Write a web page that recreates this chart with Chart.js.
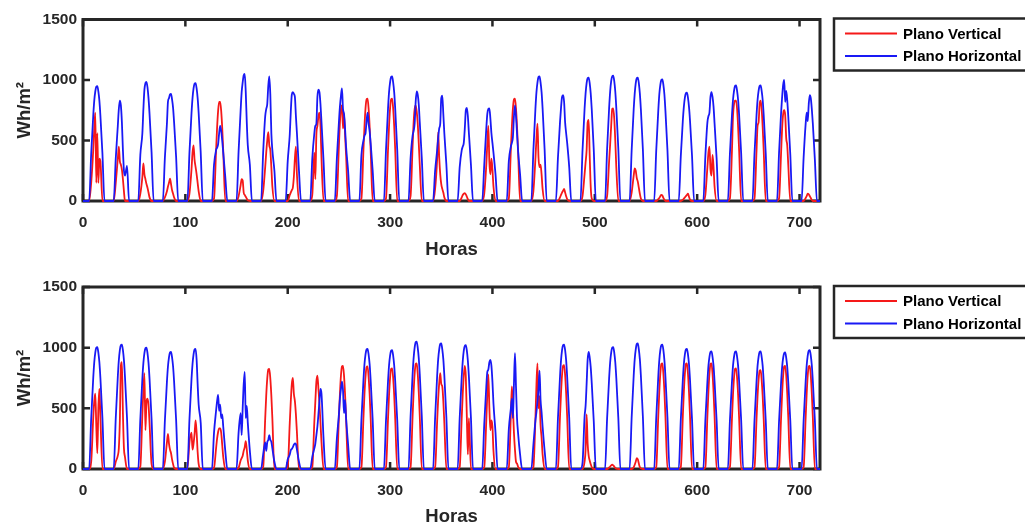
<!DOCTYPE html>
<html>
<head>
<meta charset="utf-8">
<title>Plano Vertical / Plano Horizontal</title>
<script src="https://cdn.jsdelivr.net/npm/chart.js@4.4.1/dist/chart.umd.min.js"></script>
<style>
  html, body { margin: 0; padding: 0; background: #fff; overflow: hidden; }
  body { width: 1025px; height: 523px; position: relative; }
  .panel { position: absolute; left: 0; width: 1025px; }
  #top-panel { top: 0; height: 262px; }
  #bottom-panel { top: 262px; height: 290px; }
</style>
</head>
<body>
<div class="panel" id="top-panel"><canvas id="topChart" width="1025" height="262"></canvas></div>
<div class="panel" id="bottom-panel"><canvas id="bottomChart" width="1025" height="290"></canvas></div>
<script>
// Labels
const seriesLabels = ['Plano Vertical', 'Plano Horizontal'];
const xTitle = 'Horas';
const yTitle = 'Wh/m²';

// Hours of the day at which each daily curve was read (night = 0)
const dayHours = [6, 8, 10, 11, 12, 13, 14, 15, 16, 17, 19, 21];

// Top panel - one row per day (30 days)
const topVertical = [
    [0, 150, 420, 600, 730, 150, 560, 150, 350, 330, 0, 0],
    [0, 150, 350, 450, 330, 300, 260, 180, 80, 0, 0, 0],
    [0, 60, 200, 310, 220, 180, 140, 110, 70, 30, 0, 0],
    [0, 30, 80, 120, 150, 185, 140, 90, 60, 30, 0, 0],
    [0, 60, 260, 400, 460, 340, 280, 220, 150, 80, 0, 0],
    [0, 20, 415, 605, 745, 820, 820, 745, 605, 415, 0, 0],
    [0, 40, 130, 180, 170, 70, 50, 35, 20, 5, 0, 0],
    [0, 80, 280, 400, 500, 570, 460, 420, 280, 120, 0, 0],
    [0, 0, 50, 70, 90, 110, 200, 350, 450, 220, 0, 0],
    [0, 50, 400, 180, 550, 620, 700, 730, 620, 350, 0, 0],
    [0, 40, 450, 650, 760, 790, 600, 720, 550, 380, 0, 0],
    [0, 20, 425, 620, 765, 840, 845, 765, 620, 425, 0, 0],
    [0, 20, 425, 620, 765, 840, 845, 765, 620, 425, 0, 0],
    [0, 40, 450, 650, 760, 790, 740, 640, 480, 300, 0, 0],
    [0, 100, 350, 570, 360, 220, 140, 100, 70, 30, 0, 0],
    [0, 0, 30, 50, 60, 65, 55, 35, 15, 0, 0, 0],
    [0, 60, 300, 480, 620, 320, 220, 350, 260, 120, 0, 0],
    [0, 20, 425, 620, 765, 840, 845, 765, 620, 425, 0, 0],
    [0, 80, 350, 520, 640, 360, 280, 300, 220, 100, 0, 0],
    [0, 0, 30, 50, 70, 85, 100, 70, 40, 15, 0, 0],
    [0, 40, 220, 320, 420, 650, 670, 380, 120, 20, 0, 0],
    [0, 40, 330, 470, 620, 760, 765, 680, 500, 280, 0, 0],
    [0, 70, 210, 270, 250, 190, 160, 110, 60, 20, 0, 0],
    [0, 0, 15, 25, 40, 50, 45, 25, 10, 0, 0, 0],
    [0, 0, 10, 20, 30, 40, 50, 60, 35, 10, 0, 0],
    [0, 50, 280, 400, 450, 260, 210, 380, 280, 120, 0, 0],
    [0, 20, 415, 700, 800, 830, 830, 760, 610, 415, 0, 0],
    [0, 20, 415, 620, 650, 800, 830, 760, 610, 415, 0, 0],
    [0, 20, 400, 600, 720, 750, 710, 520, 460, 300, 0, 0],
    [0, 0, 25, 40, 60, 55, 40, 25, 10, 0, 0, 0]
];

const topHorizontal = [
    [0, 390, 705, 830, 905, 945, 950, 905, 830, 705, 390, 0],
    [0, 350, 620, 760, 830, 790, 650, 420, 250, 210, 290, 0],
    [0, 380, 560, 760, 920, 975, 985, 940, 850, 720, 400, 0],
    [0, 360, 640, 820, 850, 880, 885, 840, 770, 650, 360, 0],
    [0, 400, 725, 850, 930, 970, 975, 930, 850, 725, 400, 0],
    [0, 300, 420, 440, 470, 560, 620, 580, 500, 400, 200, 0],
    [0, 410, 750, 900, 980, 1040, 1050, 900, 650, 460, 300, 0],
    [0, 400, 700, 760, 800, 950, 1030, 880, 560, 420, 250, 0],
    [0, 330, 550, 740, 880, 900, 885, 860, 700, 560, 250, 0],
    [0, 350, 560, 620, 640, 860, 920, 900, 800, 650, 330, 0],
    [0, 350, 650, 780, 870, 930, 760, 720, 600, 450, 250, 0],
    [0, 380, 500, 540, 560, 660, 730, 640, 580, 480, 250, 0],
    [0, 420, 765, 900, 980, 1025, 1030, 980, 900, 765, 420, 0],
    [0, 350, 540, 580, 640, 820, 905, 880, 800, 650, 350, 0],
    [0, 250, 420, 520, 600, 640, 850, 870, 720, 560, 300, 0],
    [0, 280, 420, 450, 480, 600, 750, 770, 700, 560, 300, 0],
    [0, 300, 600, 720, 760, 765, 680, 560, 480, 400, 220, 0],
    [0, 330, 450, 480, 530, 700, 790, 700, 560, 420, 220, 0],
    [0, 420, 765, 900, 980, 1025, 1030, 980, 900, 765, 420, 0],
    [0, 360, 650, 770, 860, 875, 820, 650, 560, 480, 280, 0],
    [0, 420, 760, 890, 975, 1015, 1020, 975, 890, 760, 420, 0],
    [0, 425, 770, 905, 990, 1030, 1035, 990, 905, 770, 425, 0],
    [0, 420, 760, 890, 975, 1015, 1020, 975, 890, 760, 420, 0],
    [0, 415, 745, 880, 960, 1000, 1005, 960, 880, 745, 415, 0],
    [0, 370, 665, 780, 855, 890, 895, 855, 780, 665, 370, 0],
    [0, 370, 650, 700, 730, 860, 900, 860, 780, 640, 350, 0],
    [0, 390, 710, 835, 910, 950, 955, 910, 835, 710, 390, 0],
    [0, 390, 710, 835, 910, 950, 955, 910, 835, 710, 390, 0],
    [0, 400, 730, 860, 960, 1000, 820, 910, 830, 700, 380, 0],
    [0, 360, 640, 730, 660, 800, 875, 850, 760, 640, 340, 0]
];

// Bottom panel
const bottomVertical = [
    [0, 60, 420, 560, 620, 350, 130, 500, 660, 430, 0, 0],
    [0, 60, 110, 170, 400, 850, 880, 460, 170, 100, 0, 0],
    [0, 20, 450, 650, 790, 320, 550, 580, 530, 380, 40, 0],
    [0, 60, 220, 290, 210, 160, 130, 80, 40, 10, 0, 0],
    [0, 220, 300, 160, 210, 290, 400, 300, 140, 40, 0, 0],
    [0, 10, 170, 250, 305, 335, 335, 300, 200, 100, 0, 0],
    [0, 10, 70, 90, 110, 150, 180, 230, 160, 70, 0, 0],
    [0, 15, 415, 605, 745, 820, 825, 745, 605, 415, 0, 0],
    [0, 15, 380, 560, 700, 750, 620, 560, 450, 300, 0, 0],
    [0, 15, 390, 560, 720, 770, 660, 540, 380, 220, 0, 0],
    [0, 15, 425, 620, 770, 845, 850, 770, 620, 425, 0, 0],
    [0, 15, 425, 620, 760, 840, 845, 760, 620, 425, 0, 0],
    [0, 15, 415, 610, 750, 825, 830, 750, 610, 415, 0, 0],
    [0, 15, 435, 635, 785, 865, 870, 785, 635, 435, 0, 0],
    [0, 15, 395, 580, 710, 790, 700, 680, 560, 380, 0, 0],
    [0, 15, 425, 620, 770, 850, 760, 420, 120, 420, 0, 0],
    [0, 15, 400, 620, 780, 500, 320, 400, 350, 150, 0, 0],
    [0, 15, 450, 680, 500, 300, 160, 60, 45, 20, 0, 0],
    [0, 15, 420, 700, 870, 500, 600, 360, 260, 120, 0, 0],
    [0, 15, 430, 625, 775, 850, 855, 775, 625, 430, 0, 0],
    [0, 0, 60, 160, 450, 210, 110, 70, 40, 15, 0, 0],
    [0, 0, 12, 20, 30, 35, 30, 20, 10, 3, 0, 0],
    [0, 0, 15, 35, 60, 90, 80, 45, 15, 5, 0, 0],
    [0, 15, 435, 635, 785, 865, 870, 785, 635, 435, 0, 0],
    [0, 15, 435, 635, 785, 865, 870, 785, 635, 435, 0, 0],
    [0, 15, 435, 635, 785, 865, 870, 785, 635, 435, 0, 0],
    [0, 15, 415, 610, 750, 825, 830, 750, 610, 415, 0, 0],
    [0, 15, 410, 600, 735, 810, 815, 735, 600, 410, 0, 0],
    [0, 15, 425, 620, 770, 845, 850, 770, 620, 425, 0, 0],
    [0, 15, 425, 620, 770, 845, 850, 770, 620, 425, 0, 0]
];

const bottomHorizontal = [
    [0, 415, 750, 880, 960, 1000, 1005, 960, 880, 750, 415, 0],
    [0, 420, 760, 895, 980, 1020, 1025, 980, 895, 760, 420, 0],
    [0, 410, 745, 875, 955, 995, 1000, 955, 875, 745, 410, 0],
    [0, 400, 720, 845, 920, 960, 965, 920, 845, 720, 400, 0],
    [0, 410, 740, 865, 945, 985, 990, 900, 700, 530, 380, 0],
    [0, 300, 480, 560, 610, 480, 530, 420, 450, 350, 150, 0],
    [0, 300, 460, 280, 500, 700, 800, 420, 520, 380, 150, 0],
    [0, 120, 220, 150, 220, 240, 280, 240, 225, 170, 60, 0],
    [0, 80, 120, 155, 165, 180, 200, 212, 205, 160, 60, 0],
    [0, 100, 170, 210, 280, 350, 450, 560, 660, 620, 250, 0],
    [0, 250, 450, 580, 660, 720, 650, 460, 570, 420, 200, 0],
    [0, 405, 735, 865, 945, 985, 990, 945, 865, 735, 405, 0],
    [0, 400, 725, 855, 935, 975, 980, 935, 855, 725, 400, 0],
    [0, 430, 780, 915, 1000, 1045, 1050, 1000, 915, 780, 430, 0],
    [0, 425, 770, 905, 985, 1030, 1035, 985, 905, 770, 425, 0],
    [0, 420, 760, 890, 975, 1015, 1020, 975, 890, 760, 420, 0],
    [0, 370, 680, 800, 820, 880, 900, 850, 720, 540, 300, 0],
    [0, 330, 500, 580, 420, 700, 955, 680, 420, 300, 120, 0],
    [0, 200, 400, 470, 560, 660, 810, 570, 470, 350, 150, 0],
    [0, 420, 760, 895, 980, 1020, 1025, 980, 895, 760, 420, 0],
    [0, 50, 430, 520, 700, 900, 965, 920, 840, 710, 390, 0],
    [0, 415, 750, 880, 960, 1000, 1005, 960, 880, 750, 415, 0],
    [0, 425, 770, 905, 985, 1030, 1035, 985, 905, 770, 425, 0],
    [0, 420, 760, 895, 980, 1020, 1025, 980, 895, 760, 420, 0],
    [0, 405, 735, 865, 945, 985, 990, 945, 865, 735, 405, 0],
    [0, 400, 720, 850, 925, 965, 970, 925, 850, 720, 400, 0],
    [0, 400, 720, 850, 925, 965, 970, 925, 850, 720, 400, 0],
    [0, 400, 720, 850, 925, 965, 970, 925, 850, 720, 400, 0],
    [0, 395, 715, 840, 915, 955, 960, 915, 840, 715, 395, 0],
    [0, 400, 725, 855, 935, 975, 980, 935, 855, 725, 400, 0]
];

// Styles
const RED = 'rgb(245, 25, 25)';
const BLUE = 'rgb(25, 25, 245)';
const AXIS_COLOR = '#262626';
const FONT = '"Liberation Sans", Arial, sans-serif';

// Turn the day rows into {x: hour, y: value} points
function buildPoints(days) {
    const pts = [{ x: 0, y: 0 }];
    days.forEach((vals, d) => {
        vals.forEach((v, k) => pts.push({ x: d * 24 + dayHours[k], y: v }));
    });
    pts.push({ x: 720, y: 0 });
    return pts;
}

// MATLAB style box with inward ticks
const frameTicks = {
    id: 'frameTicks',
    beforeDatasetsDraw(chart) {
        const { ctx, chartArea: a, scales: { x, y } } = chart;
        const len = 7;
        ctx.save();
        ctx.strokeStyle = AXIS_COLOR;
        ctx.lineWidth = 2.5;
        ctx.beginPath();
        x.ticks.forEach(t => {
            const px = x.getPixelForValue(t.value);
            ctx.moveTo(px, a.top); ctx.lineTo(px, a.top + len);
            ctx.moveTo(px, a.bottom); ctx.lineTo(px, a.bottom - len);
        });
        y.ticks.forEach(t => {
            const py = y.getPixelForValue(t.value);
            ctx.moveTo(a.left, py); ctx.lineTo(a.left + len, py);
            ctx.moveTo(a.right, py); ctx.lineTo(a.right - len, py);
        });
        ctx.stroke();
        ctx.lineWidth = 3;
        ctx.strokeRect(a.left, a.top, a.right - a.left, a.bottom - a.top);
        ctx.restore();
    }
};

// Legend box outside the plot, top right
const boxLegend = {
    id: 'boxLegend',
    afterDraw(chart) {
        const { ctx, chartArea: a } = chart;
        const left = a.right + 14;
        const top = a.top - 1;
        ctx.save();
        ctx.fillStyle = '#fff';
        ctx.fillRect(left, top, 230, 52);
        ctx.strokeStyle = AXIS_COLOR;
        ctx.lineWidth = 2.5;
        ctx.strokeRect(left, top, 230, 52);
        chart.data.datasets.forEach((ds, i) => {
            const cy = top + 15 + i * 22.5;
            ctx.strokeStyle = ds.borderColor;
            ctx.lineWidth = 1.8;
            ctx.beginPath();
            ctx.moveTo(left + 11, cy);
            ctx.lineTo(left + 63, cy);
            ctx.stroke();
            ctx.fillStyle = '#000';
            ctx.font = 'bold 15px ' + FONT;
            ctx.textBaseline = 'middle';
            ctx.fillText(ds.label, left + 69, cy + 1);
        });
        ctx.restore();
    }
};

function makeChart(canvasId, vertical, horizontal, box) {
    return new Chart(document.getElementById(canvasId), {
        type: 'line',
        data: {
            datasets: [{
                label: seriesLabels[0],
                data: buildPoints(vertical),
                borderColor: RED,
                borderWidth: 1.8,
                order: 1,
                clip: 4
            }, {
                label: seriesLabels[1],
                data: buildPoints(horizontal),
                borderColor: BLUE,
                borderWidth: 1.8,
                order: 0,
                clip: 4
            }]
        },
        options: {
            responsive: false,
            animation: false,
            events: [],
            elements: {
                point: { radius: 0 },
                line: { cubicInterpolationMode: 'monotone', fill: false }
            },
            layout: { padding: { top: box.top, right: 205, left: 0, bottom: 0 } },
            plugins: { legend: { display: false }, tooltip: { enabled: false } },
            scales: {
                x: {
                    type: 'linear',
                    min: 0,
                    max: 720,
                    grid: { display: false, drawTicks: false },
                    border: { display: false },
                    ticks: {
                        stepSize: 100,
                        includeBounds: false,
                        maxRotation: 0,
                        padding: box.tickPad,
                        color: AXIS_COLOR,
                        font: { family: FONT, size: 15.5, weight: 'bold' },
                        callback: v => String(v)
                    },
                    title: {
                        display: true,
                        text: xTitle,
                        color: AXIS_COLOR,
                        font: { family: FONT, size: 18.5, weight: 'bold' },
                        padding: { top: 0, bottom: box.titlePad }
                    },
                    afterFit: s => { s.height = box.xHeight; }
                },
                y: {
                    min: 0,
                    max: 1500,
                    grid: { display: false, drawTicks: false },
                    border: { display: false },
                    ticks: {
                        stepSize: 500,
                        padding: 6,
                        color: AXIS_COLOR,
                        font: { family: FONT, size: 15.5, weight: 'bold' },
                        callback: v => String(v)
                    },
                    title: {
                        display: true,
                        text: yTitle,
                        color: AXIS_COLOR,
                        font: { family: FONT, size: 18.5, weight: 'bold' },
                        padding: { top: 14, bottom: 0 }
                    },
                    afterFit: s => { s.width = 83; }
                }
            }
        },
        plugins: [frameTicks, boxLegend]
    });
}

makeChart('topChart', topVertical, topHorizontal, { top: 19.5, xHeight: 61, tickPad: 12, titlePad: 1 });
makeChart('bottomChart', bottomVertical, bottomHorizontal, { top: 25, xHeight: 83, tickPad: 12, titlePad: 24 });
</script>
</body>
</html>
